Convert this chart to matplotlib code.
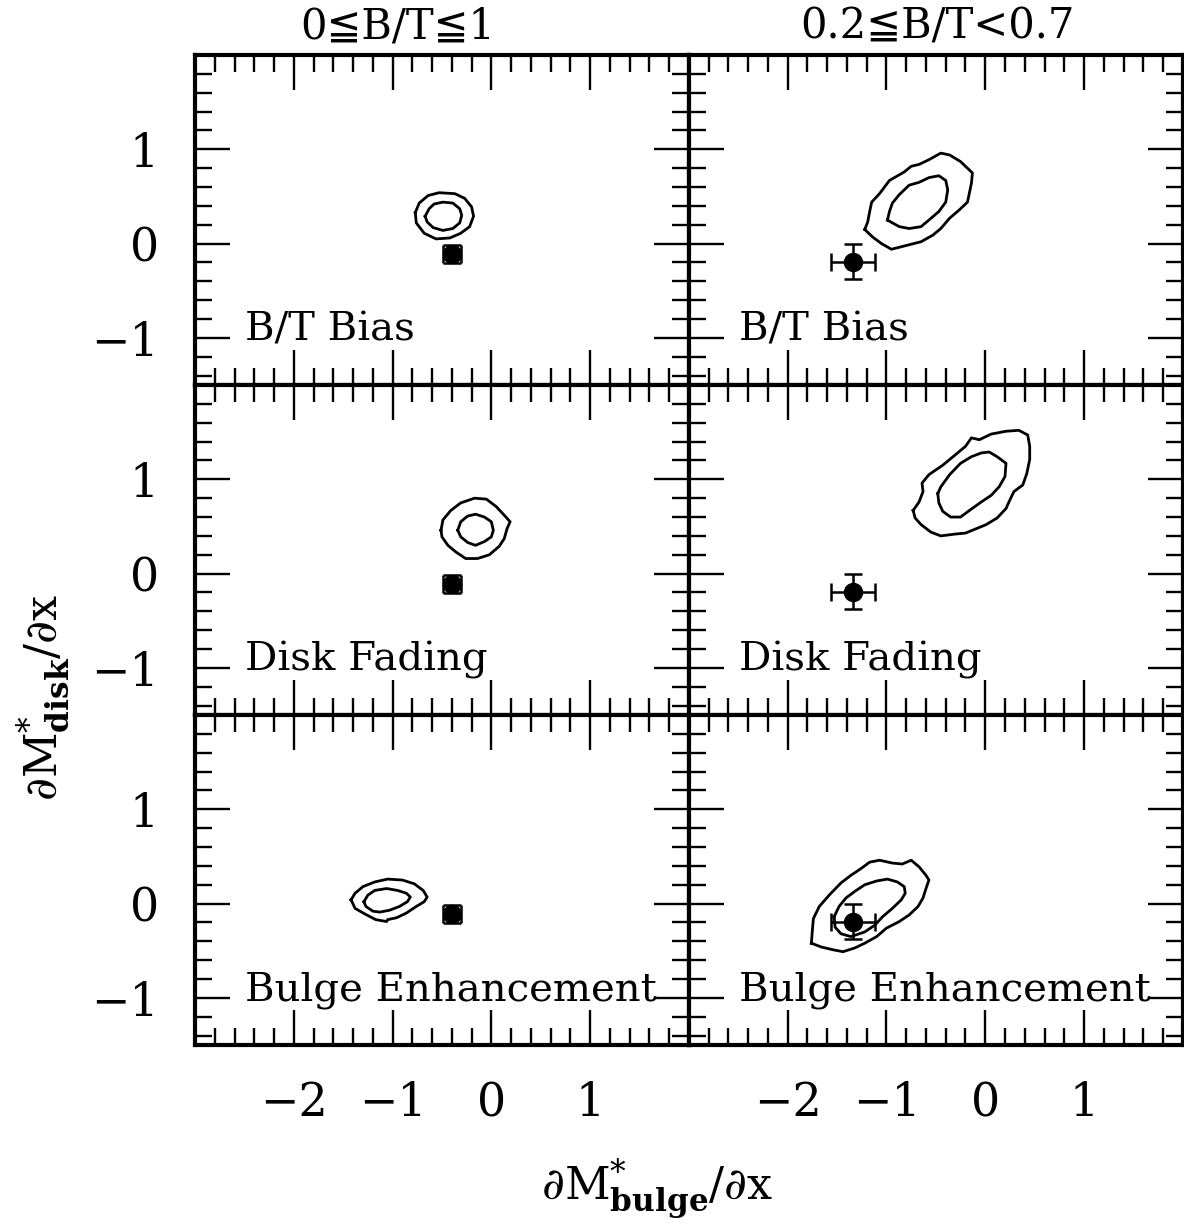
import matplotlib
matplotlib.use("Agg")
import matplotlib.pyplot as plt
from matplotlib.ticker import MultipleLocator

plt.rcParams['font.family'] = ['DejaVu Serif', 'DejaVu Sans']
plt.rcParams['mathtext.fontset'] = 'dejavuserif'

col_titles = ["0≦B/T≦1", "0.2≦B/T<0.7"]
row_labels = ["B/T Bias", "Disk Fading", "Bulge Enhancement"]

# observed value (x, y, xerr, yerr) for each B/T range
obs_all = (-0.40, -0.11, 0.09, 0.10)
obs_mid = (-1.34, -0.19, 0.22, 0.19)

# model contours (outer / inner level)
bias_all_outer = [(-0.77, 0.33), (-0.73, 0.43), (-0.64, 0.51), (-0.53, 0.54), (-0.37, 0.53),
                  (-0.27, 0.48), (-0.20, 0.39), (-0.18, 0.29), (-0.22, 0.18), (-0.31, 0.11),
                  (-0.42, 0.06), (-0.56, 0.05), (-0.68, 0.11), (-0.76, 0.22)]
bias_all_inner = [(-0.67, 0.29), (-0.63, 0.37), (-0.58, 0.42), (-0.49, 0.44), (-0.39, 0.43),
                  (-0.32, 0.37), (-0.30, 0.30), (-0.32, 0.22), (-0.39, 0.16), (-0.49, 0.14),
                  (-0.59, 0.17), (-0.65, 0.23)]
bias_mid_outer = [(-1.22, 0.15), (-1.19, 0.23), (-1.17, 0.34), (-1.15, 0.44), (-1.07, 0.53),
                  (-0.97, 0.67), (-0.87, 0.73), (-0.82, 0.76), (-0.75, 0.82), (-0.67, 0.84),
                  (-0.57, 0.89), (-0.45, 0.96), (-0.36, 0.94), (-0.25, 0.87), (-0.13, 0.75),
                  (-0.14, 0.64), (-0.18, 0.44), (-0.26, 0.36), (-0.36, 0.27), (-0.45, 0.16),
                  (-0.53, 0.09), (-0.65, 0.02), (-0.80, -0.02), (-0.95, -0.06), (-1.05, 0.00),
                  (-1.14, 0.07)]
bias_mid_inner = [(-0.99, 0.25), (-0.97, 0.34), (-0.94, 0.43), (-0.87, 0.52), (-0.77, 0.62),
                  (-0.67, 0.65), (-0.57, 0.70), (-0.47, 0.72), (-0.40, 0.67), (-0.38, 0.57),
                  (-0.40, 0.44), (-0.47, 0.34), (-0.57, 0.25), (-0.65, 0.18), (-0.77, 0.16),
                  (-0.87, 0.18), (-0.94, 0.22)]
fade_all_outer = [(-0.51, 0.46), (-0.49, 0.57), (-0.41, 0.67), (-0.31, 0.75), (-0.17, 0.80),
                  (-0.05, 0.79), (0.05, 0.71), (0.13, 0.62), (0.19, 0.55), (0.16, 0.48),
                  (0.13, 0.37), (0.08, 0.29), (-0.02, 0.20), (-0.14, 0.16), (-0.26, 0.16),
                  (-0.36, 0.23), (-0.44, 0.30), (-0.50, 0.39)]
fade_all_inner = [(-0.34, 0.46), (-0.31, 0.55), (-0.24, 0.61), (-0.16, 0.63), (-0.07, 0.60),
                  (0.00, 0.55), (0.02, 0.46), (0.00, 0.39), (-0.07, 0.34), (-0.16, 0.30),
                  (-0.24, 0.33), (-0.31, 0.39)]
fade_mid_outer = [(-0.73, 0.67), (-0.67, 0.76), (-0.63, 0.87), (-0.64, 0.96), (-0.57, 1.05),
                  (-0.43, 1.15), (-0.28, 1.28), (-0.20, 1.35), (-0.14, 1.44), (-0.06, 1.42),
                  (0.06, 1.48), (0.21, 1.51), (0.34, 1.52), (0.43, 1.47), (0.45, 1.35),
                  (0.45, 1.21), (0.42, 1.06), (0.38, 0.94), (0.29, 0.87), (0.24, 0.76),
                  (0.21, 0.69), (0.12, 0.59), (0.01, 0.52), (-0.13, 0.46), (-0.20, 0.43),
                  (-0.30, 0.42), (-0.45, 0.40), (-0.55, 0.44), (-0.65, 0.52), (-0.71, 0.59)]
fade_mid_inner = [(-0.48, 0.85), (-0.45, 0.92), (-0.36, 1.05), (-0.25, 1.17), (-0.14, 1.24),
                  (-0.04, 1.28), (0.04, 1.29), (0.12, 1.24), (0.21, 1.17), (0.20, 1.03),
                  (0.14, 0.92), (0.06, 0.83), (-0.04, 0.76), (-0.16, 0.67), (-0.25, 0.60),
                  (-0.35, 0.60), (-0.43, 0.66), (-0.47, 0.75)]
bulge_all_outer = [(-1.42, 0.04), (-1.38, 0.11), (-1.30, 0.18), (-1.18, 0.23), (-1.05, 0.26),
                   (-0.90, 0.25), (-0.78, 0.21), (-0.69, 0.14), (-0.65, 0.07), (-0.68, 0.02),
                   (-0.76, -0.03), (-0.86, -0.10), (-0.96, -0.15), (-1.05, -0.17), (-1.06, -0.19),
                   (-1.17, -0.17), (-1.28, -0.11), (-1.38, -0.05)]
bulge_all_inner = [(-1.29, 0.02), (-1.25, 0.09), (-1.18, 0.14), (-1.06, 0.16), (-0.95, 0.14),
                   (-0.86, 0.11), (-0.82, 0.07), (-0.85, 0.02), (-0.93, -0.03), (-1.03, -0.07),
                   (-1.13, -0.09), (-1.20, -0.08), (-1.27, -0.03)]
bulge_mid_outer = [(-1.76, -0.42), (-1.75, -0.28), (-1.74, -0.16), (-1.68, -0.03), (-1.58, 0.09),
                   (-1.46, 0.22), (-1.36, 0.30), (-1.26, 0.37), (-1.17, 0.44), (-1.07, 0.46),
                   (-0.94, 0.43), (-0.84, 0.42), (-0.75, 0.46), (-0.67, 0.39), (-0.60, 0.30),
                   (-0.57, 0.25), (-0.60, 0.16), (-0.63, 0.06), (-0.68, -0.03), (-0.77, -0.12),
                   (-0.87, -0.19), (-1.00, -0.26), (-1.10, -0.35), (-1.22, -0.42), (-1.32, -0.47),
                   (-1.44, -0.51), (-1.54, -0.49), (-1.66, -0.46)]
bulge_mid_inner = [(-1.53, -0.14), (-1.48, -0.03), (-1.41, 0.06), (-1.32, 0.13), (-1.22, 0.20),
                   (-1.10, 0.24), (-0.99, 0.26), (-0.89, 0.23), (-0.82, 0.18), (-0.81, 0.11),
                   (-0.85, 0.04), (-0.94, -0.05), (-1.04, -0.14), (-1.12, -0.23), (-1.22, -0.30),
                   (-1.36, -0.35), (-1.46, -0.32), (-1.52, -0.25)]

panel_contours = [
    [(bias_all_outer, bias_all_inner), (bias_mid_outer, bias_mid_inner)],
    [(fade_all_outer, fade_all_inner), (fade_mid_outer, fade_mid_inner)],
    [(bulge_all_outer, bulge_all_inner), (bulge_mid_outer, bulge_mid_inner)],
]
obs = [obs_all, obs_mid]

fig, axes = plt.subplots(3, 2, figsize=(11.84, 12.26), sharex=True, sharey=True)
fig.subplots_adjust(left=0.1647, right=0.999, top=0.9551, bottom=0.1476, wspace=0, hspace=0)

for i in range(3):
    for j in range(2):
        ax = axes[i, j]
        for level in panel_contours[i][j]:
            xs = [p[0] for p in level] + [level[0][0]]
            ys = [p[1] for p in level] + [level[0][1]]
            ax.plot(xs, ys, color='black', linewidth=2.0)
        x0, y0, ex, ey = obs[j]
        ax.errorbar(x0, y0, xerr=ex, yerr=ey, fmt='o', color='black', markersize=13,
                    elinewidth=1.8, capsize=6.8, capthick=1.8, zorder=5)
        ax.text(0.101, 0.136, row_labels[i], transform=ax.transAxes, fontsize=29,
                ha='left', va='baseline')

        ax.set_xlim(-3, 2)
        ax.set_ylim(-1.5, 2)
        ax.set_xticks([-2, -1, 0, 1])
        ax.set_yticks([-1, 0, 1])
        ax.xaxis.set_minor_locator(MultipleLocator(0.2))
        ax.yaxis.set_minor_locator(MultipleLocator(0.2))
        ax.tick_params(which='both', direction='in', top=True, right=True, width=1.7)
        ax.tick_params(which='major', length=25, pad=26, labelsize=33)
        ax.tick_params(which='minor', length=12.5)
        for s in ax.spines.values():
            s.set_linewidth(3.0)

fig.text(0.336, 0.969, col_titles[0], ha='center', va='baseline', fontsize=30)
fig.text(0.792, 0.969, col_titles[1], ha='center', va='baseline', fontsize=30)

fig.text(0.555, 0.021, r'$\partial\mathrm{M}^{*}_{\mathbf{bulge}}/\partial\mathrm{x}$',
         ha='center', va='baseline', fontsize=32)
fig.text(0.036, 0.431, r'$\partial\mathrm{M}^{*}_{\mathbf{disk}}/\partial\mathrm{x}$',
         rotation=90, ha='center', va='center', fontsize=32)

fig.savefig('out.png', dpi=100)
